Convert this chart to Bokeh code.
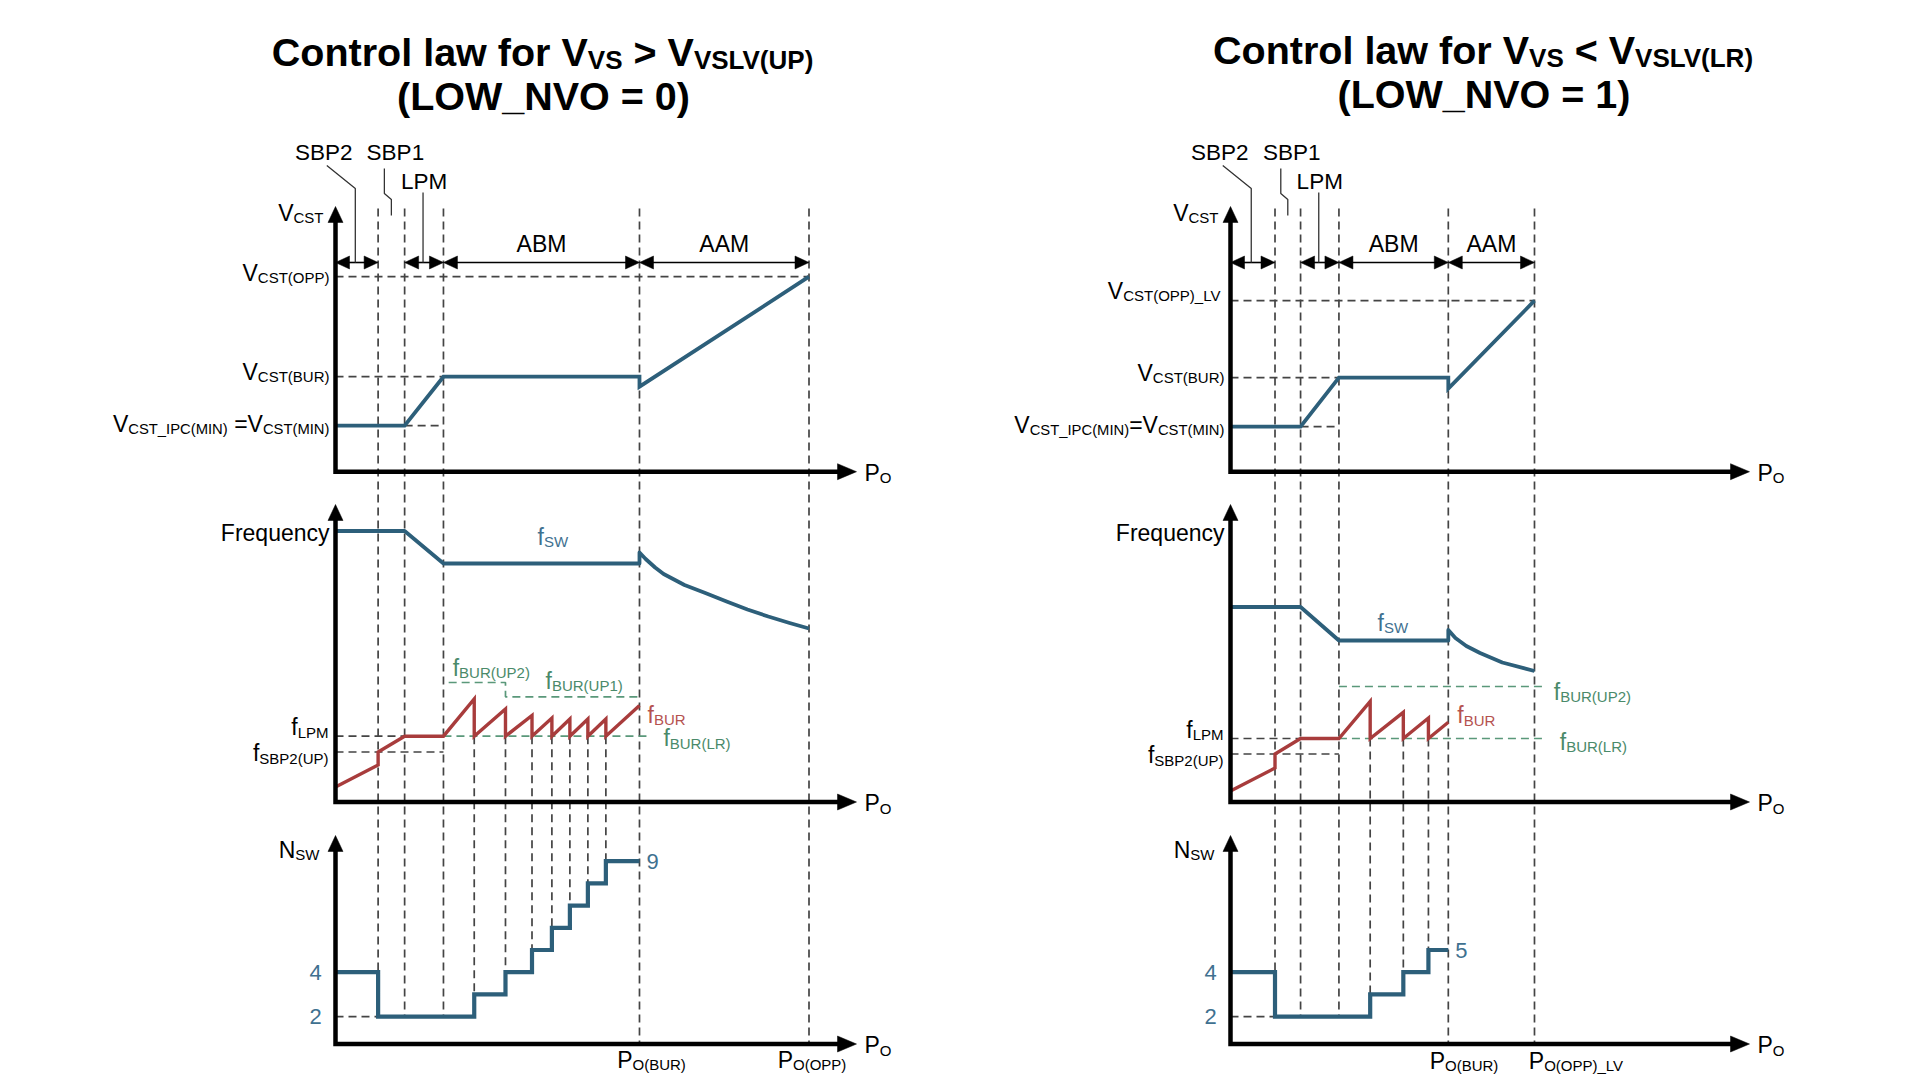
from bokeh.plotting import figure
from bokeh.models import Range1d
from bokeh.core.properties import value
from bokeh.embed import file_html
from bokeh.resources import INLINE

# ======================= DATA (diagram units) =======================
# P_O axis in arbitrary units (P_O(OPP) = 100)
BOUNDS_L = [9.0, 14.6, 22.8, 64.2, 100.0]     # SBP2 | SBP1 | LPM | ABM -> P_O(BUR) | AAM -> P_O(OPP)
BOUNDS_R = [9.4, 14.8, 22.9, 46.0, 64.2]      # SBP2 | SBP1 | LPM | ABM -> P_O(BUR) | AAM -> P_O(OPP)_LV

# V_CST curves
VCST_PO_L = [0.0, 14.6, 22.8, 64.2, 64.2, 100.0]
VCST_L = [0.46, 0.46, 0.95, 0.95, 0.85, 1.95]
VCST_PO_R = [0.0, 14.8, 22.9, 46.0, 46.0, 64.2]
VCST_R = [0.45, 0.45, 0.94, 0.94, 0.83, 1.71]

# switching frequency f_SW
FSW_PO_L = [0.0, 14.6, 22.8, 64.2, 64.2, 65.5, 67.5, 69.3, 73.7, 78.1, 82.6, 87.0, 91.4, 95.9, 100.0]
FSW_L = [2.71, 2.71, 2.385, 2.385, 2.495, 2.43, 2.345, 2.28, 2.17, 2.09, 2.005, 1.925, 1.855, 1.79, 1.735]
FSW_PO_R = [0.0, 14.8, 22.9, 46.0, 46.0, 47.5, 49.8, 52.7, 57.4, 64.2]
FSW_R = [1.95, 1.95, 1.615, 1.615, 1.72, 1.64, 1.56, 1.49, 1.395, 1.31]

# burst frequency f_BUR : lead-in (up to f_LPM), then sawtooth
FBUR_IN_PO_L = [0.0, 9.0, 9.0, 14.6, 22.8]
FBUR_IN_L = [0.15, 0.37, 0.50, 0.658, 0.658]
BUR_DROPS_L = [29.3, 35.9, 41.5, 45.7, 49.5, 53.3, 57.1]
BUR_PEAKS_L = [1.03, 0.93, 0.865, 0.84, 0.83, 0.83, 0.83]
BUR_END_L = 0.965

FBUR_IN_PO_R = [0.0, 9.4, 9.4, 14.8, 22.9]
FBUR_IN_R = [0.11, 0.34, 0.48, 0.635, 0.635]
BUR_DROPS_R = [29.5, 36.5, 41.8]
BUR_PEAKS_R = [1.005, 0.897, 0.84]
BUR_END_R = 0.797

# f_BUR(UP2)/(UP1) thresholds and f_BUR(LR)
FUP_PO_L = [23.9, 35.9, 35.9, 64.2]
FUP_L = [1.195, 1.195, 1.052, 1.052]
FUP_PO_R = [22.9, 66.8]
FUP_R = [1.155, 1.155]
FLR_END_L = 66.5
FLR_END_R = 66.8

# number of switching cycles per burst
NSW_START = 4
NSW_MIN = 2

# ======================= LAYOUT / STYLE =======================
FONT = "Liberation Sans"
BLUE = "#2d5f7a"
RED = "#a83c3c"
GREEN = "#5a987a"
GUIDE = "#444444"
BLUE_TXT = "#3f7190"
RED_TXT = "#b5524f"
GREEN_TXT = "#4a8a6a"
INK = "#000000"

KX = 4.735
X0 = {"L": 335.0, "R": 1230.0}
ROWS = {"top": (471.2, 100.0), "mid": (801.5, 100.0), "bot": (1060.5, 22.2)}
AXIS_Y = {"top": 471.2, "mid": 801.5, "bot": 1043.5}
YTIP = {"top": 206.0, "mid": 504.0, "bot": 835.0}
XTIP = {"L": 856.0, "R": 1749.0}
GUIDE_TOP = 208.0
DIM_Y = 262.0
PW, PH = 1920, 1080


def sx(c, po):
    return X0[c] + KX * po


def sy(row, v):
    a, k = ROWS[row]
    return a - k * v


p = figure(width=PW, height=PH, x_range=Range1d(0, PW), y_range=Range1d(PH, 0),
           output_backend="svg", toolbar_location=None, min_border=0,
           x_axis_location=None, y_axis_location=None)
p.grid.visible = False
p.outline_line_color = None
p.background_fill_color = "white"
p.border_fill_color = "white"
p.extra_x_ranges = {c: Range1d((0 - X0[c]) / KX, (PW - X0[c]) / KX) for c in X0}
p.extra_y_ranges = {r: Range1d((a - PH) / k, (a - 0) / k) for r, (a, k) in ROWS.items()}

REG = {' ': 278, '(': 333, ')': 333, '_': 556, '=': 584, '>': 584, '<': 584,
       'A': 667, 'B': 667, 'C': 722, 'D': 722, 'E': 667, 'F': 611, 'I': 278, 'L': 556,
       'M': 833, 'N': 722, 'O': 778, 'P': 667, 'R': 722, 'S': 667, 'T': 611, 'U': 722,
       'V': 667, 'W': 944, 'c': 500, 'e': 556, 'f': 278, 'n': 556, 'q': 556, 'r': 333,
       'u': 556, 'y': 500}
BOLD = {' ': 278, '(': 333, ')': 333, '_': 556, '=': 584, '>': 584, '<': 584,
        'C': 722, 'L': 611, 'N': 722, 'O': 778, 'P': 667, 'R': 722, 'S': 667, 'U': 722,
        'V': 667, 'W': 944, 'a': 556, 'f': 333, 'l': 278, 'n': 611, 'o': 611, 'r': 389,
        't': 333, 'w': 778}


def tw(s, size, bold=False):
    tab = BOLD if bold else REG
    return sum(tab.get(ch, 556) for ch in s) * size / 1000.0


def rich(parts, x, yc, anchor="left", size=23, sub=15, color=INK, bold=False, drop=None):
    """Text with subscripts; yc = vertical centre of the main capitals."""
    if drop is None:
        drop = 0.1 * size
    ws = [tw(t, sub if s else size, bold) for t, s in parts]
    tot = sum(ws)
    x0 = x if anchor == "left" else (x - tot if anchor == "right" else x - tot / 2)
    for (t, s), w in zip(parts, ws):
        fs = sub if s else size
        lead = len(t) - len(t.lstrip(" "))
        txt = t.strip(" ")
        xx = x0 + tw(" " * lead, fs, bold)
        yy = yc + (0.358 * size + drop - 0.358 * sub if s else 0.0)
        p.text(x=[xx], y=[yy], text=[txt],
               text_font=value(FONT), text_font_size=value("%.1fpx" % fs),
               text_font_style=value("bold" if bold else "normal"),
               text_color=color, text_align="left", text_baseline="middle")
        x0 += w


def head(xt, yt, d, ln, hw):
    if d == "up":
        return [xt, xt - hw, xt + hw], [yt, yt + ln, yt + ln]
    if d == "right":
        return [xt, xt - ln, xt - ln], [yt, yt - hw, yt + hw]
    return [xt, xt + ln, xt + ln], [yt, yt - hw, yt + hw]


# ======================= TITLES =======================
rich([("Control law for V", 0), ("VS", 1), (" > V", 0), ("VSLV(UP)", 1)], 543, 51.5,
     "center", 39.5, 26, "#000000", True, 3)
rich([("(LOW_NVO = 0)", 0)], 543, 95.5, "center", 39.5, 26, "#000000", True)
rich([("Control law for V", 0), ("VS", 1), (" < V", 0), ("VSLV(LR)", 1)], 1483.5, 49.5,
     "center", 39.5, 26, "#000000", True, 3)
rich([("(LOW_NVO = 1)", 0)], 1483.5, 93.5, "center", 39.5, 26, "#000000", True)


def column(c, B, vpo, vv, fpo, fv, inpo, inf, drops, peaks, end_f, fup_po, fup, lr_end, opp_name):
    b0, b1, b2, b3, b4 = B
    vmin, vbur, vopp = vv[0], vv[2], vv[-1]
    flpm, fsbp = inf[-1], inf[2]
    nsw_end = NSW_MIN + len(drops)

    # ---- vertical guides ----
    gx, gy0, gy1 = [], [], []
    for b in B[:3]:
        gx.append(sx(c, b)); gy0.append(GUIDE_TOP); gy1.append(sy("bot", NSW_MIN))
    for b in B[3:]:
        gx.append(sx(c, b)); gy0.append(GUIDE_TOP); gy1.append(AXIS_Y["bot"])
    for i, d in enumerate(drops):
        gx.append(sx(c, d)); gy0.append(sy("mid", flpm)); gy1.append(sy("bot", NSW_MIN + i))
    p.segment(x0=gx, y0=gy0, x1=gx, y1=gy1, line_color=GUIDE, line_width=1.7, line_dash="8 5")

    # ---- top panel ----
    p.segment(x0=[0, 0, b1], y0=[vopp, vbur, vmin], x1=[b4, b2, b2], y1=[vopp, vbur, vmin],
              x_range_name=c, y_range_name="top", line_color=GUIDE, line_width=1.7, line_dash="8 5")
    p.line(vpo, vv, x_range_name=c, y_range_name="top", line_color=BLUE, line_width=3.8,
           line_join="miter")

    # ---- middle panel ----
    p.segment(x0=[0, 0], y0=[flpm, fsbp], x1=[b2, b2], y1=[flpm, fsbp],
              x_range_name=c, y_range_name="mid", line_color=GUIDE, line_width=1.7, line_dash="8 5")
    p.line([b2, lr_end], [flpm, flpm], x_range_name=c, y_range_name="mid",
           line_color=GREEN, line_width=1.7, line_dash="8 5")
    p.line(fup_po, fup, x_range_name=c, y_range_name="mid",
           line_color=GREEN, line_width=1.7, line_dash="8 5")
    p.line(fpo, fv, x_range_name=c, y_range_name="mid", line_color=BLUE, line_width=3.8,
           line_join="round")
    bx, by = list(inpo), list(inf)
    for d, pk in zip(drops, peaks):
        bx += [d, d]; by += [pk, flpm]
    bx.append(b3); by.append(end_f)
    p.line(bx, by, x_range_name=c, y_range_name="mid", line_color=RED, line_width=3.4,
           line_join="miter")

    # ---- bottom panel ----
    p.line([0, b0], [NSW_MIN, NSW_MIN], x_range_name=c, y_range_name="bot",
           line_color=GUIDE, line_width=1.7, line_dash="8 5")
    nx, ny = [0, b0, b0], [NSW_START, NSW_START, NSW_MIN]
    n = NSW_MIN
    for d in drops:
        nx += [d, d]; ny += [n, n + 1]; n += 1
    nx.append(b3); ny.append(n)
    p.line(nx, ny, x_range_name=c, y_range_name="bot", line_color=BLUE, line_width=4.2,
           line_join="miter")

    # ---- axes ----
    xa = X0[c]
    hx, hy = [], []
    for r in ["top", "mid", "bot"]:
        ay = AXIS_Y[r]
        p.line([xa, xa, XTIP[c] - 16], [YTIP[r] + 13, ay, ay], line_color="#000000",
               line_width=4.5, line_join="miter")
        a, b_ = head(xa, YTIP[r], "up", 16, 7.5); hx.append(a); hy.append(b_)
        a, b_ = head(XTIP[c], ay, "right", 19, 8); hx.append(a); hy.append(b_)
        rich([("P", 0), ("O", 1)], XTIP[c] + 8, ay + 1, "left", 23, 15)

    # ---- dimension arrows ----
    for l, r_ in [(0, b0), (b1, b2), (b2, b3), (b3, b4)]:
        x1, x2 = sx(c, l), sx(c, r_)
        p.line([x1 + 10, x2 - 10], [DIM_Y, DIM_Y], line_color="#000000", line_width=1.6)
        a, b_ = head(x1, DIM_Y, "left", 14, 6.5); hx.append(a); hy.append(b_)
        a, b_ = head(x2, DIM_Y, "right", 14, 6.5); hx.append(a); hy.append(b_)
    p.patches(hx, hy, fill_color="#000000", line_color="#000000", line_width=0.5)

    # ---- region labels and leaders ----
    lx = sx(c, b0 / 2.0)
    mx = sx(c, (b0 + b1) / 2.0)
    px_ = sx(c, (b1 + b2) / 2.0)
    p.line([lx - 30, lx - 1.5, lx - 1.5], [165, 188, DIM_Y], line_color="#333333", line_width=1.3)
    p.line([mx - 7, mx - 7, mx, mx], [168, 193, 199, 215], line_color="#333333", line_width=1.3)
    p.line([px_ - 1, px_ - 1], [192, DIM_Y], line_color="#333333", line_width=1.3)
    rich([("SBP2", 0)], lx - 33, 152, "center", 22.5)
    rich([("SBP1", 0)], mx + 4, 152, "center", 22.5)
    rich([("LPM", 0)], px_, 181, "center", 22.5)
    rich([("ABM", 0)], sx(c, (b2 + b3) / 2.0), 243, "center", 23)
    rich([("AAM", 0)], sx(c, (b3 + b4) / 2.0), 243, "center", 23)

    # ---- top labels ----
    rich([("V", 0), ("CST", 1)], xa - 12, 212, "right")
    if opp_name == "OPP":
        rich([("V", 0), ("CST(OPP)", 1)], xa - 6, sy("top", vopp) - 4, "right")
        rich([("V", 0), ("CST_IPC(MIN)", 1), (" =V", 0), ("CST(MIN)", 1)],
             xa - 6, sy("top", vmin) - 2, "right", 23, 14.8)
    else:
        rich([("V", 0), ("CST(OPP)_LV", 1)], xa - 9, sy("top", vopp) - 10, "right")
        rich([("V", 0), ("CST_IPC(MIN)", 1), ("=V", 0), ("CST(MIN)", 1)],
             xa - 6, sy("top", vmin) - 2, "right", 23, 14.8)
    rich([("V", 0), ("CST(BUR)", 1)], xa - 6, sy("top", vbur) - 5, "right")

    # ---- middle labels ----
    rich([("Frequency", 0)], xa - 6, 532.5, "right")
    rich([("f", 0), ("LPM", 1)], xa - 7, sy("mid", flpm) - 9, "right")
    rich([("f", 0), ("SBP2(UP)", 1)], xa - 7, sy("mid", fsbp) + 1, "right")

    # ---- bottom labels ----
    rich([("N", 0), ("SW", 1)], xa - 16, 849, "right")
    for nv in [NSW_MIN, NSW_START]:
        rich([(str(nv), 0)], xa - 20, sy("bot", nv), "center", 22, color=BLUE_TXT)
    rich([(str(nsw_end), 0)], sx(c, b3) + 7, sy("bot", nsw_end), "left", 22, color=BLUE_TXT)
    return flpm


# ======================= LEFT COLUMN =======================
flpm_l = column("L", BOUNDS_L, VCST_PO_L, VCST_L, FSW_PO_L, FSW_L, FBUR_IN_PO_L, FBUR_IN_L,
                BUR_DROPS_L, BUR_PEAKS_L, BUR_END_L, FUP_PO_L, FUP_L, FLR_END_L, "OPP")
rich([("f", 0), ("SW", 1)], 537, 536, "left", color=BLUE_TXT)
rich([("f", 0), ("BUR(UP2)", 1)], sx("L", FUP_PO_L[0]) + 4, sy("mid", FUP_L[0]) - 15, color=GREEN_TXT)
rich([("f", 0), ("BUR(UP1)", 1)], 545, sy("mid", FUP_L[2]) - 16, color=GREEN_TXT)
rich([("f", 0), ("BUR", 1)], sx("L", BOUNDS_L[3]) + 8, sy("mid", BUR_END_L) + 9, color=RED_TXT)
rich([("f", 0), ("BUR(LR)", 1)], sx("L", FLR_END_L) + 13, sy("mid", flpm_l) + 2, color=GREEN_TXT)
rich([("P", 0), ("O(BUR)", 1)], 651, 1059, "center")
rich([("P", 0), ("O(OPP)", 1)], 811.5, 1059, "center")

# ======================= RIGHT COLUMN =======================
flpm_r = column("R", BOUNDS_R, VCST_PO_R, VCST_R, FSW_PO_R, FSW_R, FBUR_IN_PO_R, FBUR_IN_R,
                BUR_DROPS_R, BUR_PEAKS_R, BUR_END_R, FUP_PO_R, FUP_R, FLR_END_R, "OPP_LV")
rich([("f", 0), ("SW", 1)], 1377, 622, "left", color=BLUE_TXT)
rich([("f", 0), ("BUR(UP2)", 1)], sx("R", FUP_PO_R[-1]) + 7, sy("mid", FUP_R[0]) + 5, color=GREEN_TXT)
rich([("f", 0), ("BUR", 1)], sx("R", BOUNDS_R[3]) + 9, sy("mid", BUR_END_R) - 7, color=RED_TXT)
rich([("f", 0), ("BUR(LR)", 1)], sx("R", FLR_END_R) + 13, sy("mid", flpm_r) + 3, color=GREEN_TXT)
rich([("P", 0), ("O(BUR)", 1)], 1463.5, 1060, "center")
rich([("P", 0), ("O(OPP)_LV", 1)], 1576, 1060, "center")

open("out.html", "w").write(file_html(p, INLINE))
